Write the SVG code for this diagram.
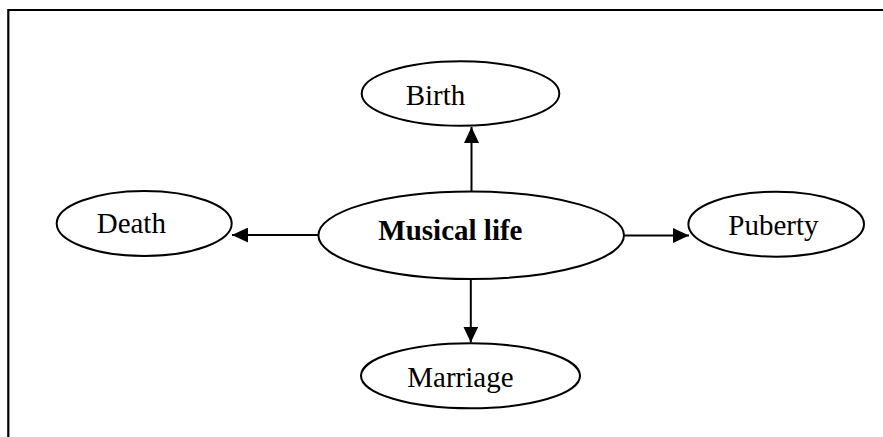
<svg xmlns="http://www.w3.org/2000/svg" width="883" height="437" viewBox="0 0 883 437">
  <defs>
    <style>
      .node ellipse { fill: #ffffff; stroke: #000000; stroke-width: 2; }
      .lbl { font-family: "Liberation Serif", "Times New Roman", serif; font-size: 29px; fill: #000000; }
      .bold { font-weight: bold; }
      .conn line { stroke: #000000; stroke-width: 2; fill: none; marker-end: url(#arrow); }
      .frame { stroke: #000000; stroke-width: 2.2; fill: none; }
    </style>
    <marker id="arrow" markerUnits="userSpaceOnUse" markerWidth="16" markerHeight="15" refX="16" refY="7.5" orient="auto">
      <path d="M0,0 L16,7.5 L0,15 z" fill="#000000"/>
    </marker>
  </defs>
  <rect width="883" height="437" fill="#ffffff"/>
  <path class="frame" d="M8.3,437 L8.3,10 L883,10"/>
  <g id="connectors" class="conn">
    <line x1="471.5" y1="191.5" x2="471.5" y2="127"/>
    <line x1="470.8" y1="279" x2="470.8" y2="342.5"/>
    <line x1="318.5" y1="235" x2="232" y2="235"/>
    <line x1="624" y1="235.5" x2="689" y2="235.5"/>
  </g>
  <g id="node-center" class="node">
    <ellipse cx="471.2" cy="235.3" rx="152.8" ry="43.7"/>
    <text class="lbl bold" x="378.3" y="240">Musical life</text>
  </g>
  <g id="node-birth" class="node">
    <ellipse cx="460.5" cy="93.5" rx="98.8" ry="32.3"/>
    <text class="lbl" x="405.7" y="105">Birth</text>
  </g>
  <g id="node-marriage" class="node">
    <ellipse cx="470.5" cy="375.8" rx="109.5" ry="32.5"/>
    <text class="lbl" x="407.3" y="386.7">Marriage</text>
  </g>
  <g id="node-death" class="node">
    <ellipse cx="144.2" cy="223.5" rx="87.5" ry="32.5"/>
    <text class="lbl" x="96.7" y="233.3">Death</text>
  </g>
  <g id="node-puberty" class="node">
    <ellipse cx="776.2" cy="224.2" rx="87.8" ry="32.5"/>
    <text class="lbl" x="728.3" y="235">Puberty</text>
  </g>
</svg>
